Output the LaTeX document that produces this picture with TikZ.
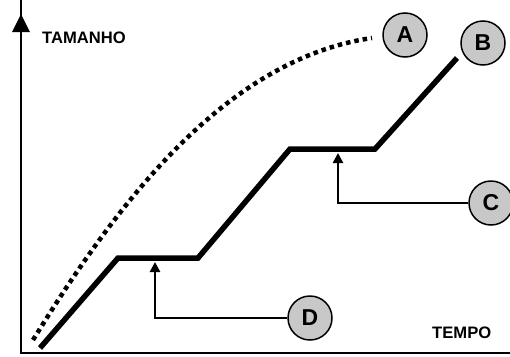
\documentclass[tikz,border=0pt]{standalone}
\usepackage{fontspec}
\setmainfont{Liberation Sans}
\usetikzlibrary{arrows.meta,positioning}
\definecolor{markgray}{RGB}{200,200,200}
\tikzstyle{axis} = [line width=2.8pt, line cap=rect]
\tikzstyle{growth} = [line width=5.5pt]
\tikzstyle{pointer} = [line width=2.5pt, -{Triangle[length=10pt,width=10pt]}]

\begin{document}
\begin{tikzpicture}[x=1pt, y=-1pt]
\tikzset{%
	tag/.style = {circle, draw=black, line width=1.5pt, fill=markgray, minimum size=44pt, inner sep=0pt, font=\fontsize{23}{23}\selectfont\bfseries},
	axlabel/.style = {font=\fontsize{16.6}{16.6}\selectfont\bfseries, inner sep=0pt}
}
\useasboundingbox (0,0) rectangle (510,356);

% axes
\coordinate (org) at (21,353);
\coordinate (ytop) at (21,14);
\coordinate (xend) at (510,353);
\draw [axis] (xend) -- (org) -- ([yshift=16pt]ytop);
\draw [axis, -{Triangle[length=18pt,width=17pt]}] (21,40) -- (ytop);
\node(ylab) [axlabel, anchor=west] at (42,38) {TAMANHO};
\node(xlab) [axlabel, anchor=west] at (432,333) {TEMPO};

% markers
\node(cA) [tag] at (405,35) {A};
\node(cB) [tag] at (483,43) {B};
\node(cC) [tag] at (491,203) {C};
\node(cD) [tag] at (310,318) {D};

% curve A
\coordinate (a0) at (33,340);
\coordinate (a1) at (372,38);
\draw [line width=4.5pt, dash pattern=on 4.5pt off 4pt] (a0) .. controls (110,215) and (220,60) .. (a1);

% steps B
\coordinate (b0) at (40,348);
\coordinate (b1) at (118,258);
\coordinate (b2) at (198,258);
\coordinate (b3) at (290,149);
\coordinate (b4) at (375,149);
\coordinate (b5) at (457,58);
\draw [growth] (b0) -- (b1) -- (b2) -- (b3) -- (b4) -- (b5);

% pointers
\coordinate (ctip) at (338,153);
\coordinate (dtip) at (155,262);
\draw [pointer] (cC.west) -| (ctip);
\draw [pointer] (cD.west) -| (dtip);
\end{tikzpicture}
\end{document}
